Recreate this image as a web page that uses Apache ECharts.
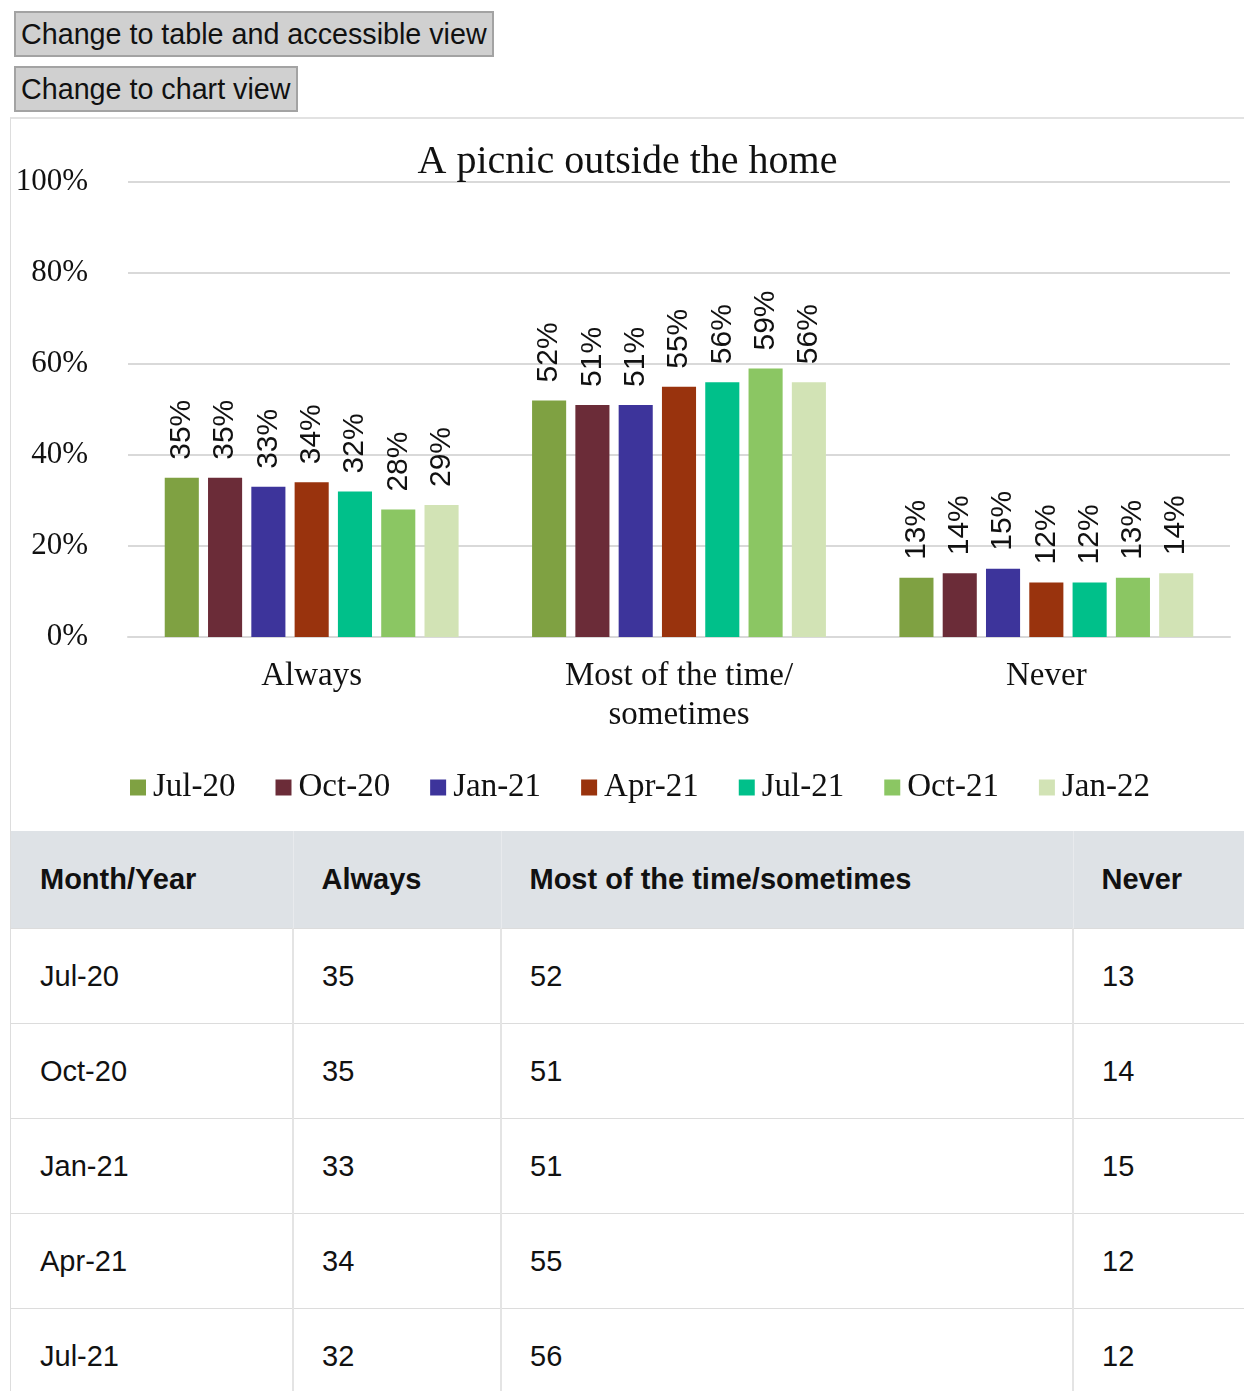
<!DOCTYPE html>
<html>
<head>
<meta charset="utf-8">
<script src="https://cdn.jsdelivr.net/npm/echarts@6/dist/echarts.min.js"></script>
<style>
  body { margin: 0; background: #fff; overflow: hidden; font-family: "Liberation Sans", Arial, sans-serif; }
  .btn {
    display: block; margin: 0 0 9px 14px; height: 46px; padding: 0 5px;
    font: 28.7px "Liberation Sans", Arial, sans-serif; color: #111;
    background: #d0d0d0; border: 2px solid #a3a3a3; box-sizing: border-box;
  }
  #wrap { margin: -4px 0 0 10px; width: 1260px; border-left: 1px solid #ddd; border-top: 2px solid #e2e2e2; }
  #chart { width: 1233px; height: 712px; }
  table { border-collapse: collapse; width: 1260px; font-size: 29px; color: #111; }
  th { background: #dee2e6; text-align: left; height: 97px; padding: 0 0 0 28px; font-weight: bold; border-right: 1px solid #e8eaed; }
  td { height: 94px; padding: 0 0 0 28px; border: 1px solid #dcdcdc; border-left: none; }
  td:first-child, th:first-child { padding-left: 29px; }
  td + td { border-left: 2px solid #e4e4e4; }
</style>
</head>
<body>
<button class="btn" style="margin-top:11px">Change to table and accessible view</button>
<button class="btn">Change to chart view</button>
<div id="wrap">
  <div id="chart"></div>
  <table id="tbl"></table>
</div>
<script>
// 分类与数据
const categories = ['Always', 'Most of the time/\nsometimes', 'Never'];
const tableHeads = ['Month/Year', 'Always', 'Most of the time/sometimes', 'Never'];
const months = ['Jul-20', 'Oct-20', 'Jan-21', 'Apr-21', 'Jul-21', 'Oct-21', 'Jan-22'];
const always = [35, 35, 33, 34, 32, 28, 29];
const most = [52, 51, 51, 55, 56, 59, 56];
const never = [13, 14, 15, 12, 12, 13, 14];
const colors = ['#7fa142', '#6b2c38', '#3d349b', '#99330d', '#00c08a', '#8bc663', '#d2e3b5'];

const serif = '"Liberation Serif", "Times New Roman", serif';

let chart = echarts.init(document.getElementById('chart'));

let series = months.map((m, i) => ({
  name: m,
  type: 'bar',
  barGap: '27%',
  barCategoryGap: '20%',
  itemStyle: { color: colors[i] },
  label: {
    show: true,
    position: 'top',
    rotate: 90,
    align: 'left',
    verticalAlign: 'middle',
    distance: 18,
    formatter: '{c}%',
    fontFamily: '"Liberation Sans", Arial, sans-serif',
    fontSize: 30,
    color: '#111'
  },
  data: [always[i], most[i], never[i]]
}));

chart.setOption({
  animation: false,
  backgroundColor: '#fff',
  color: colors,
  title: {
    text: 'A picnic outside the home',
    left: 'center',
    top: 18,
    textStyle: { fontFamily: serif, fontSize: 40, fontWeight: 'normal', color: '#111' }
  },
  legend: {
    left: 114,
    top: 647,
    icon: 'rect',
    itemWidth: 16,
    itemHeight: 16,
    itemGap: 40,
    textStyle: { fontFamily: serif, fontSize: 33, color: '#111', padding: [0, 0, 0, 2] },
    data: months
  },
  grid: { left: 117, right: 14, top: 63, bottom: 194 },
  xAxis: {
    type: 'category',
    data: categories,
    axisTick: { show: false },
    axisLine: { lineStyle: { color: '#d9d9d9', width: 2 } },
    axisLabel: { fontFamily: serif, fontSize: 33, color: '#111', margin: 20, lineHeight: 39 }
  },
  yAxis: {
    type: 'value',
    min: 0,
    max: 100,
    interval: 20,
    axisLabel: { formatter: '{value}%', fontFamily: serif, fontSize: 31, color: '#111', margin: 40 },
    splitLine: { lineStyle: { color: '#d9d9d9', width: 2 } }
  },
  series: series
});

// 表格
let html = '<tr>' + tableHeads.map(h => '<th>' + h + '</th>').join('') + '</tr>';
months.forEach((m, i) => {
  html += '<tr><td style="width:252px">' + m + '</td><td style="width:178px">' + always[i] +
    '</td><td style="width:542px">' + most[i] + '</td><td>' + never[i] + '</td></tr>';
});
document.getElementById('tbl').innerHTML = html;
</script>
</body>
</html>
